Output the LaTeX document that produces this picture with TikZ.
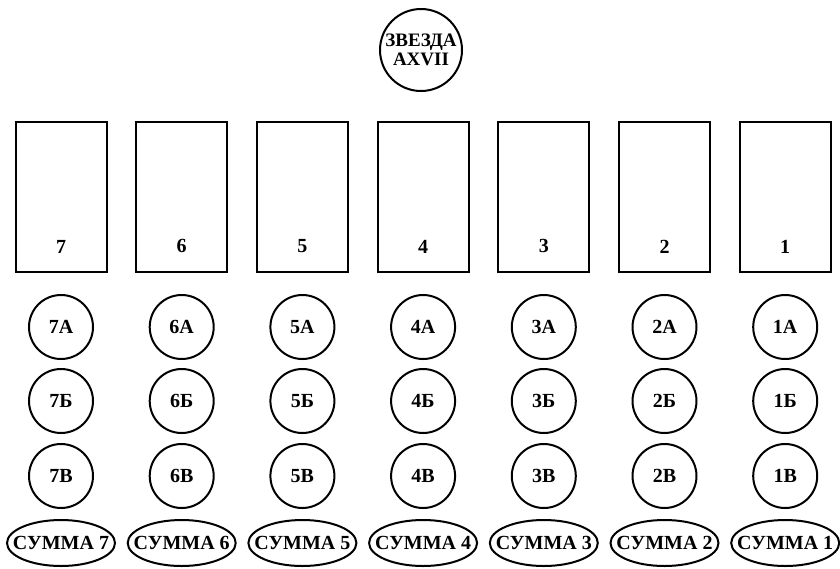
\documentclass[tikz,border=0pt]{standalone}
\usepackage{fontspec}
\setmainfont{Liberation Serif}
\usetikzlibrary{shapes.geometric}
\begin{document}
\begin{tikzpicture}[x=1pt,y=1pt,line width=2pt,
  every node/.style={inner sep=0pt,font=\fontsize{20}{20}\selectfont\bfseries},
  slot/.style={draw,rectangle,minimum width=91pt,minimum height=150pt},
  cell/.style={draw,circle,minimum size=64pt},
  total/.style={draw,ellipse,inner xsep=-10pt,inner ysep=6pt,
    minimum width=108pt,minimum height=46pt}]
\useasboundingbox (0,0) rectangle (840,-568);
\node[draw,circle,minimum size=82pt,align=center,
  font=\fontsize{19}{19}\selectfont\bfseries] (star) at (421,-50) {ЗВЕЗДА\\AXVII};
\foreach \n in {1,...,7}{
  \pgfmathsetmacro{\cx}{61+(7-\n)*120.7}
  \node[slot] (slot\n) at (\cx,-197) {};
  \node[above=19pt] (num\n) at (slot\n.south) {\n};
  \node[cell] (a\n) at (\cx,-327) {\n А};
  \node[cell] (b\n) at (\cx,-401) {\n Б};
  \node[cell] (c\n) at (\cx,-476) {\n В};
  \node[total] (sum\n) at (\cx,-543) {СУММА \n};
}
\end{tikzpicture}
\end{document}
